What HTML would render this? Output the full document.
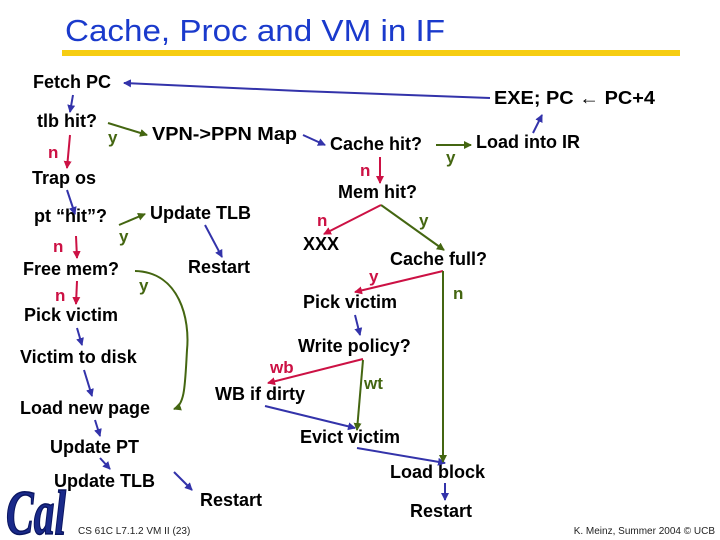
<!DOCTYPE html>
<html><head><meta charset="utf-8"><style>
html,body{margin:0;padding:0;background:#fff;}
svg{display:block;}
text{font-family:"Liberation Sans",Arial,sans-serif;font-weight:bold;}
.t{font-size:18px;fill:#000;}
.r{font-size:17px;fill:#cc1144;}
.g{font-size:17px;fill:#446611;}
.b{stroke:#3333aa;stroke-width:2;fill:none;marker-end:url(#mb);}
.rl{stroke:#cc1144;stroke-width:2;fill:none;marker-end:url(#mr);}
.gl{stroke:#446611;stroke-width:2;fill:none;marker-end:url(#mg);}
</style></head><body>
<svg width="720" height="540" viewBox="0 0 720 540" xmlns="http://www.w3.org/2000/svg">
<defs>
<marker id="mb" markerWidth="8" markerHeight="8" refX="7" refY="4" orient="auto" markerUnits="userSpaceOnUse"><path d="M0,0L8,4L0,8z" fill="#3333aa"/></marker>
<marker id="mr" markerWidth="8" markerHeight="8" refX="7" refY="4" orient="auto" markerUnits="userSpaceOnUse"><path d="M0,0L8,4L0,8z" fill="#cc1144"/></marker>
<marker id="mg" markerWidth="8" markerHeight="8" refX="7" refY="4" orient="auto" markerUnits="userSpaceOnUse"><path d="M0,0L8,4L0,8z" fill="#446611"/></marker>
</defs>
<text x="65" y="41" style="font-size:31px;font-weight:normal;fill:#1a3acc" textLength="380" lengthAdjust="spacingAndGlyphs">Cache, Proc and VM in IF</text>
<rect x="62" y="50" width="618" height="6" fill="#f6cd12"/>

<text class="t" x="33" y="88">Fetch PC</text>
<text class="t" x="37" y="127">tlb hit?</text>
<text class="g" x="108" y="143">y</text>
<text class="r" x="48" y="158">n</text>
<text class="t" x="152" y="140" textLength="145" lengthAdjust="spacingAndGlyphs">VPN-&gt;PPN Map</text>
<text class="t" x="330" y="150">Cache hit?</text>
<text class="g" x="446" y="163">y</text>
<text class="t" x="476" y="148">Load into IR</text>
<text class="t" x="494" y="104" textLength="161" lengthAdjust="spacingAndGlyphs">EXE; PC ← PC+4</text>
<text class="t" x="32" y="184">Trap os</text>
<text class="r" x="360" y="176">n</text>
<text class="t" x="338" y="198">Mem hit?</text>
<text class="t" x="150" y="219">Update TLB</text>
<text class="t" x="34" y="222">pt “hit”?</text>
<text class="g" x="119" y="242">y</text>
<text class="r" x="317" y="226">n</text>
<text class="g" x="419" y="226">y</text>
<text class="t" x="303" y="250">XXX</text>
<text class="r" x="53" y="252">n</text>
<text class="t" x="390" y="265">Cache full?</text>
<text class="t" x="188" y="273">Restart</text>
<text class="t" x="23" y="275">Free mem?</text>
<text class="g" x="139" y="291">y</text>
<text class="r" x="369" y="282">y</text>
<text class="g" x="453" y="299">n</text>
<text class="r" x="55" y="301">n</text>
<text class="t" x="303" y="308">Pick victim</text>
<text class="t" x="24" y="321">Pick victim</text>
<text class="t" x="298" y="352">Write policy?</text>
<text class="t" x="20" y="363">Victim to disk</text>
<text class="r" x="270" y="373">wb</text>
<text class="g" x="364" y="389">wt</text>
<text class="t" x="215" y="400">WB if dirty</text>
<text class="t" x="20" y="414">Load new page</text>
<text class="t" x="300" y="443">Evict victim</text>
<text class="t" x="50" y="453">Update PT</text>
<text class="t" x="54" y="487">Update TLB</text>
<text class="t" x="390" y="478">Load block</text>
<text class="t" x="200" y="506">Restart</text>
<text class="t" x="410" y="517">Restart</text>
<text x="78" y="534" style="font-size:10px;font-weight:normal;fill:#222">CS 61C L7.1.2 VM II (23)</text>
<text x="715" y="534" text-anchor="end" style="font-size:10px;font-weight:normal;fill:#222">K. Meinz, Summer 2004 © UCB</text>
<text x="6" y="534" style="font-family:'Liberation Serif',serif;font-style:italic;font-size:64px;fill:#1a2a8a;stroke:#0a1560;stroke-width:1.5" textLength="60" lengthAdjust="spacingAndGlyphs">Cal</text>

<!-- blue -->
<path class="b" d="M490,98 L300,91 L124,83"/>
<path class="b" d="M73,95 L70,112"/>
<path class="b" d="M67,190 L75,214"/>
<path class="b" d="M205,225 L222,257"/>
<path class="b" d="M303,135 L325,145"/>
<path class="b" d="M533,133 L542,115"/>
<path class="b" d="M77,328 L82,345"/>
<path class="b" d="M84,370 L92,396"/>
<path class="b" d="M95,420 L100,436"/>
<path class="b" d="M100,458 L110,469"/>
<path class="b" d="M174,472 L192,490"/>
<path class="b" d="M355,315 L360,335"/>
<path class="b" d="M265,406 L355,428"/>
<path class="b" d="M357,448 L445,463"/>
<path class="b" d="M445,483 L445,500"/>
<!-- red -->
<path class="rl" d="M70,135 L67,168"/>
<path class="rl" d="M76,236 L77,258"/>
<path class="rl" d="M77,281 L76,304"/>
<path class="rl" d="M380,157 L380,183"/>
<path class="rl" d="M381,205 L324,234"/>
<path class="rl" d="M443,271 L355,292"/>
<path class="rl" d="M363,359 L268,383"/>
<!-- green -->
<path class="gl" d="M108,123 L147,135"/>
<path class="gl" d="M119,225 L145,214"/>
<path class="gl" d="M436,145 L471,145"/>
<path class="gl" d="M381,205 L444,250"/>
<path class="gl" d="M443,271 L443,462"/>
<path class="gl" d="M363,360 L357,430"/>
<path class="gl" d="M135,271 C180,272 190,320 187,350 C185,385 185,405 174,409"/>
</svg>
</body></html>
